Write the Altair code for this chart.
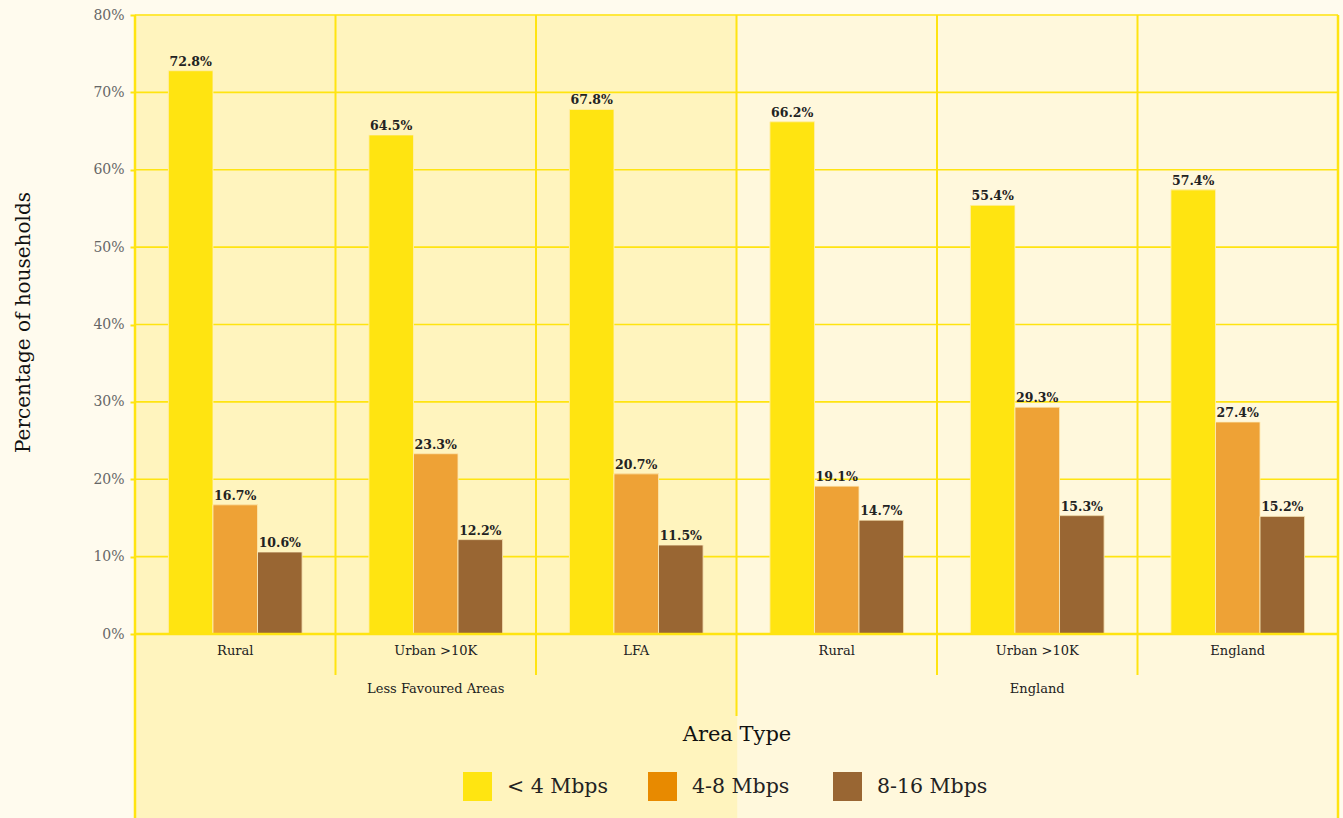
import altair as alt
import pandas as pd

# ---- data -------------------------------------------------------------
keys = ["LFA|Rural", "LFA|Urban >10K", "LFA|LFA",
        "ENG|Rural", "ENG|Urban >10K", "ENG|England"]
speeds = ["< 4 Mbps", "4-8 Mbps", "8-16 Mbps"]
lt4 = [72.8, 64.5, 67.8, 66.2, 55.4, 57.4]
s4_8 = [16.7, 23.3, 20.7, 19.1, 29.3, 27.4]
s8_16 = [10.6, 12.2, 11.5, 14.7, 15.3, 15.2]
y_ticks = [0, 10, 20, 30, 40, 50, 60, 70, 80]
group_labels = ["Less Favoured Areas", "England"]
group_label_keys = ["LFA|Urban >10K", "ENG|Urban >10K"]

bar_colors = ["#ffe411", "#eea236", "#996633"]
legend_colors = ["#ffe511", "#e88a00", "#996633"]
GRID = "#ffe411"
FONT = "DejaVu Serif"

rows = []
for series, name in zip([lt4, s4_8, s8_16], speeds):
    for k, v in zip(keys, series):
        rows.append({"key": k, "speed": name, "value": v, "label": f"{v:.1f}%"})
bars_df = pd.DataFrame(rows)

xscale = alt.Scale(domain=keys, paddingInner=0, paddingOuter=0)
yscale = alt.Scale(domain=[0, 80], nice=False)
oscale = alt.Scale(domain=speeds, paddingInner=0, paddingOuter=0.75)

xax = alt.Axis(title="Area Type", labelExpr="split(datum.label, '|')[1]",
               labelAngle=0, ticks=False, domain=False, grid=False,
               labelPadding=10, labelFontSize=13, labelColor="#222",
               labelFont=FONT, titleFont=FONT, titleFontSize=21,
               titleFontWeight="normal", titleColor="#111",
               titleBaseline="middle", titleY=100, zindex=1)
yax = alt.Axis(title="Percentage of households", values=y_ticks,
               labelExpr="datum.value + '%'", grid=False, domain=False,
               tickColor=GRID, tickSize=5, tickWidth=2, labelPadding=6,
               labelFontSize=14, labelColor="#666", labelFont=FONT,
               titleFont=FONT, titleFontSize=20, titleFontWeight="normal",
               titleColor="#111", titleAngle=270, titleBaseline="alphabetic",
               titleX=-106, titleY=307, zindex=1)

keys_df = pd.DataFrame({"key": keys})

# backgrounds (full height incl. space below the plot)
bg_eng = alt.Chart(keys_df[keys_df.key.str.startswith("ENG")]).mark_rect(
    color="#fff8dc", stroke="#fff8dc", strokeWidth=1.5).encode(
    x=alt.X("key:N", scale=xscale, axis=xax),
    y=alt.value(0), y2=alt.value(803))
bg_lfa = alt.Chart(keys_df[keys_df.key.str.startswith("LFA")]).mark_rect(
    color="#fff4be", stroke="#fff4be", strokeWidth=1.5).encode(
    x=alt.X("key:N", scale=xscale, axis=xax),
    y=alt.value(0), y2=alt.value(803))

# horizontal gridlines
hgrid = alt.Chart(pd.DataFrame({"value": y_ticks})).mark_rule(
    color=GRID, strokeWidth=1.6).encode(
    y=alt.Y("value:Q", scale=yscale, axis=yax))

# vertical separators
inner = alt.Chart(pd.DataFrame({"key": [keys[1], keys[2], keys[4], keys[5]]})).mark_rule(
    color=GRID, strokeWidth=2).encode(
    x=alt.X("key:N", scale=xscale, axis=xax, bandPosition=0),
    y=alt.value(0), y2=alt.value(660))
divider = alt.Chart(pd.DataFrame({"key": [keys[3]]})).mark_rule(
    color=GRID, strokeWidth=2).encode(
    x=alt.X("key:N", scale=xscale, axis=xax, bandPosition=0),
    y=alt.value(0), y2=alt.value(701))
left_edge = alt.Chart(pd.DataFrame({"key": [keys[0]]})).mark_rule(
    color=GRID, strokeWidth=2.5).encode(
    x=alt.X("key:N", scale=xscale, axis=xax, bandPosition=0),
    y=alt.value(0), y2=alt.value(803))
right_edge = alt.Chart(pd.DataFrame({"key": [keys[-1]]})).mark_rule(
    color=GRID, strokeWidth=2.5).encode(
    x=alt.X("key:N", scale=xscale, axis=xax, bandPosition=1),
    y=alt.value(0), y2=alt.value(803))
zero_line = alt.Chart(pd.DataFrame({"value": [0]})).mark_rule(
    color=GRID, strokeWidth=2.5).encode(
    y=alt.Y("value:Q", scale=yscale, axis=yax))

# legend-only layer (hidden beneath the real bars)
legend_layer = alt.Chart(bars_df).mark_bar().encode(
    x=alt.X("key:N", scale=xscale, axis=xax),
    xOffset=alt.XOffset("speed:N", scale=oscale),
    y=alt.Y("value:Q", scale=yscale, axis=yax),
    color=alt.Color("speed:N", scale=alt.Scale(domain=speeds, range=legend_colors),
                    legend=alt.Legend(title=None, orient="none", direction="horizontal",
                                      columns=3, legendX=328, legendY=757,
                                      symbolType="square", symbolSize=841,
                                      symbolStrokeWidth=0, symbolOpacity=1,
                                      labelFont=FONT, labelFontSize=20.5,
                                      labelColor="#222", labelOffset=15,
                                      gridAlign="all", columnPadding=30,
                                      padding=0)))

bars = alt.Chart(bars_df).mark_bar(stroke="#fff0c0", strokeWidth=0.8).encode(
    x=alt.X("key:N", scale=xscale, axis=xax),
    xOffset=alt.XOffset("speed:N", scale=oscale),
    y=alt.Y("value:Q", scale=yscale, axis=yax),
    color=alt.Color("speed:N", scale=alt.Scale(domain=speeds, range=bar_colors),
                    legend=None))

bar_text = alt.Chart(bars_df).mark_text(
    font=FONT, fontSize=12.5, fontWeight="bold", color="#222",
    baseline="bottom", dy=-2).encode(
    x=alt.X("key:N", scale=xscale, axis=xax),
    xOffset=alt.XOffset("speed:N", scale=oscale),
    y=alt.Y("value:Q", scale=yscale, axis=yax),
    text="label:N")

group_text = alt.Chart(pd.DataFrame({"key": group_label_keys, "label": group_labels})).mark_text(
    font=FONT, fontSize=13, color="#222", baseline="middle").encode(
    x=alt.X("key:N", scale=xscale, axis=xax),
    y=alt.value(674),
    text="label:N")

chart = alt.layer(
    bg_eng, bg_lfa, hgrid, inner, divider, left_edge, right_edge,
    legend_layer, bars, zero_line, bar_text, group_text
).resolve_scale(color="independent").properties(
    width=1203, height=619,
    autosize=alt.AutoSizeParams(type="none"),
    padding={"left": 135, "top": 15, "right": 5, "bottom": 184},
    background="#fffbee"
).configure_view(strokeWidth=0)

chart.save("out.html", embed_options={"renderer": "svg", "actions": False})
